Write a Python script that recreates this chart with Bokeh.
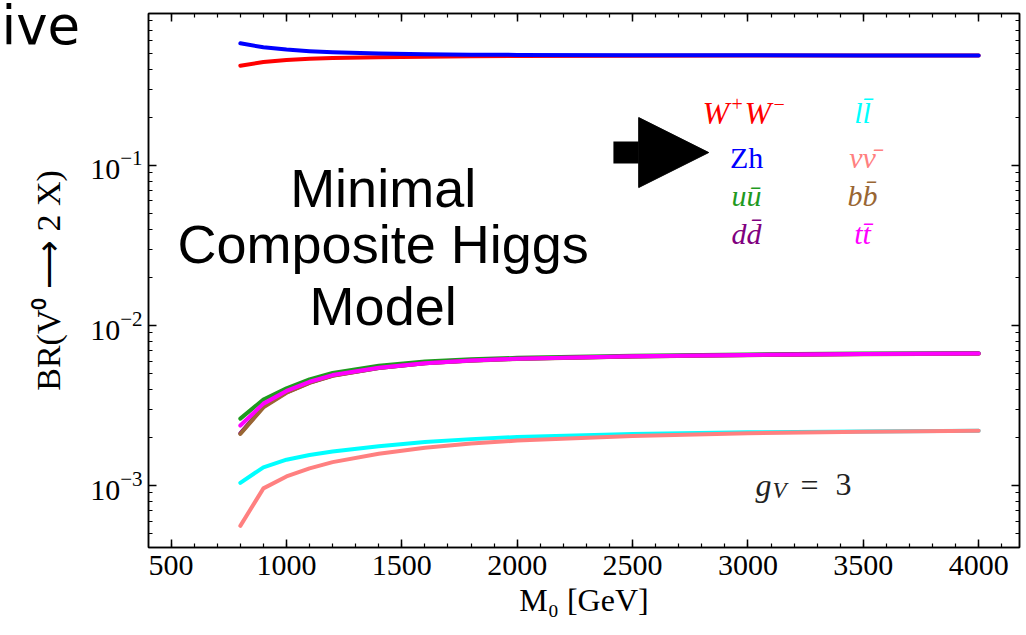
from bokeh.plotting import figure
from bokeh.models import (FixedTicker, LinearAxis, LogAxis, Label, Arrow, NormalHead,
                          Range1d, LogTickFormatter, Title)
from bokeh.embed import file_html
from bokeh.resources import INLINE

# ---------------- data ----------------
mass = [800, 900, 1000, 1100, 1200, 1400, 1600, 1800, 2000, 2500, 3000, 3500, 4000]

br_ww = [0.42, 0.443, 0.456, 0.464, 0.469, 0.475, 0.479, 0.481, 0.483, 0.485, 0.486, 0.487, 0.487]
br_zh = [0.58, 0.548, 0.53, 0.518, 0.51, 0.501, 0.496, 0.493, 0.491, 0.489, 0.488, 0.487, 0.487]
br_uu = [2.62e-3, 3.45e-3, 4.05e-3, 4.6e-3, 5.05e-3, 5.6e-3, 5.95e-3, 6.15e-3, 6.28e-3, 6.48e-3, 6.6e-3, 6.68e-3, 6.72e-3]
br_dd = [2.12e-3, 3.12e-3, 3.82e-3, 4.4e-3, 4.87e-3, 5.43e-3, 5.81e-3, 6.04e-3, 6.19e-3, 6.41e-3, 6.54e-3, 6.63e-3, 6.68e-3]
br_ll = [1.04e-3, 1.3e-3, 1.45e-3, 1.55e-3, 1.63e-3, 1.76e-3, 1.87e-3, 1.95e-3, 2.01e-3, 2.1e-3, 2.15e-3, 2.18e-3, 2.2e-3]
br_nn = [5.6e-4, 9.6e-4, 1.14e-3, 1.28e-3, 1.4e-3, 1.58e-3, 1.72e-3, 1.83e-3, 1.91e-3, 2.04e-3, 2.12e-3, 2.17e-3, 2.2e-3]
br_bb = [2.1e-3, 3.08e-3, 3.8e-3, 4.38e-3, 4.85e-3, 5.42e-3, 5.8e-3, 6.03e-3, 6.18e-3, 6.4e-3, 6.53e-3, 6.62e-3, 6.67e-3]
br_tt = [2.37e-3, 3.25e-3, 3.9e-3, 4.45e-3, 4.9e-3, 5.45e-3, 5.82e-3, 6.05e-3, 6.2e-3, 6.42e-3, 6.55e-3, 6.63e-3, 6.68e-3]

series_names = ["W+W-", "Zh", "u\u016b", "dd\u0304", "ll\u0304", "\u03bd\u03bd\u0304", "bb\u0304", "tt\u0304"]
series_values = [br_ww, br_zh, br_uu, br_dd, br_ll, br_nn, br_bb, br_tt]
series_colors = ["#ff0000", "#0000ff", "#1f9a1f", "#800080", "#00ffff", "#ff8080", "#996633", "#ff00ff"]

x_ticks = [500, 1000, 1500, 2000, 2500, 3000, 3500, 4000]
x_minor = list(range(400, 4200, 100))
y_ticks = [1e-3, 1e-2, 1e-1]
y_minor = [m * d for d in (1e-4, 1e-3, 1e-2, 1e-1) for m in range(2, 10)]

x_title = "M\u2080 [GeV]"
y_title = "BR(V\u2070 \u27f6 2 X)"

# ---------------- figure ----------------
p = figure(frame_width=871, frame_height=534,
           x_range=Range1d(402, 4177), y_range=Range1d(4.1e-4, 0.891),
           y_axis_type="log", output_backend="svg", toolbar_location=None,
           min_border_left=148, min_border_right=7, min_border_top=13, min_border_bottom=88,
           background_fill_color="white", border_fill_color="white")
p.grid.visible = False
p.outline_line_color = "black"
p.outline_line_width = 1.5

for vals, col in zip(series_values, series_colors):
    p.line(mass, vals, line_color=col, line_width=4, line_join="round", line_cap="round")

SERIF = "Liberation Serif"
SANS = "Liberation Sans"

def style_axis(ax, ticks, blank=False):
    ax.axis_line_color = "black"
    ax.axis_line_width = 1.5
    ax.major_tick_line_color = "black"
    ax.minor_tick_line_color = "black"
    ax.major_tick_line_width = 1.5
    ax.minor_tick_line_width = 1.2
    ax.major_tick_in = 8
    ax.major_tick_out = 0
    ax.minor_tick_in = 4
    ax.minor_tick_out = 0
    ax.major_label_text_font = SERIF
    ax.major_label_text_color = "black"
    ax.axis_label_text_color = "black"
    if blank:
        ax.major_label_overrides = {t: "" for t in ticks}
        ax.major_label_text_font_size = "2px"
        ax.major_label_standoff = 0
    else:
        ax.major_label_text_font_size = "30px"

xa = p.xaxis[0]
xa.ticker = FixedTicker(ticks=x_ticks, minor_ticks=x_minor)
style_axis(xa, x_ticks)
xa.major_label_standoff = 8
xa.axis_label = x_title
xa.axis_label_text_font = SERIF
xa.axis_label_text_font_style = "normal"
xa.axis_label_text_font_size = "32px"
xa.axis_label_standoff = 4

ya = p.yaxis[0]
ya.ticker = FixedTicker(ticks=y_ticks, minor_ticks=y_minor)
ya.formatter = LogTickFormatter(min_exponent=0)
style_axis(ya, y_ticks)
ya.major_label_standoff = 6
ya.axis_label = y_title
ya.axis_label_text_font = SERIF
ya.axis_label_text_font_style = "normal"
ya.axis_label_text_font_size = "34px"
ya.axis_label_standoff = 20

top = LinearAxis(ticker=FixedTicker(ticks=x_ticks, minor_ticks=x_minor))
style_axis(top, x_ticks, blank=True)
p.add_layout(top, "above")
right = LogAxis(ticker=FixedTicker(ticks=y_ticks, minor_ticks=y_minor))
style_axis(right, y_ticks, blank=True)
p.add_layout(right, "right")

# cut-off word at the top left, outside the frame: a title in the top border,
# shifted left and pulled down so that it takes almost no height
p.add_layout(Title(text="\nive", align="left", vertical_align="bottom", offset=-147,
                   standoff=-85, text_font="DejaVu Sans", text_font_size="53px",
                   text_font_style="normal", text_color="black", text_line_height=0.45),
             "above")

# ---------------- legend-like coloured labels ----------------
leg_x = [2803, 2994, 2994, 2994, 3497, 3497, 3497, 3497]
leg_y = [0.2143, 0.1122, 0.0649, 0.0376, 0.2143, 0.1122, 0.0649, 0.0376]
for name, col, lx, ly in zip(series_names, series_colors, leg_x, leg_y):
    if name == "W+W-":
        # W^+ W^- built from pieces so the charges sit as superscripts
        for piece, dx, dy, fs in [("W", 0, 0, "32px"), ("+", 29, 9, "20px"),
                                  ("W", 42, 0, "32px"), ("\u2212", 71, 9, "20px")]:
            p.add_layout(Label(x=lx, y=ly, x_offset=dx, y_offset=dy, text=piece,
                               text_color=col, text_font=SERIF, text_font_size=fs,
                               text_font_style="italic" if piece == "W" else "normal",
                               text_align="left", text_baseline="middle"))
        continue
    p.add_layout(Label(x=lx, y=ly, text=name, text_color=col, text_font=SERIF,
                       text_font_size="30px",
                       text_font_style="normal" if name == "Zh" else "italic",
                       text_align="center", text_baseline="middle"))

# arrow pointing at Zh
p.add_layout(Arrow(x_start=2417, y_start=0.1205, x_end=2830, y_end=0.1205,
                   line_color="black", line_width=22,
                   end=NormalHead(size=70, fill_color="black", line_color="black")))

# g_V = 3
GV = "#222222"
p.add_layout(Label(x=3033, y=1.0145e-3, text="g", text_font=SERIF, text_font_style="italic",
                   text_font_size="32px", text_color=GV, text_baseline="middle"))
p.add_layout(Label(x=3107, y=9.3e-4, text="V", text_font=SERIF, text_font_style="italic",
                   text_font_size="23px", text_color=GV, text_baseline="middle"))
p.add_layout(Label(x=3228, y=1.0145e-3, text="=", text_font=SERIF,
                   text_font_size="32px", text_color=GV, text_baseline="middle"))
p.add_layout(Label(x=3380, y=1.0145e-3, text="3", text_font=SERIF,
                   text_font_size="32px", text_color=GV, text_baseline="middle"))

# model annotation
for txt, ty in zip(["Minimal", "Composite Higgs", "Model"], [0.07286, 0.03255, 0.01315]):
    p.add_layout(Label(x=1419, y=ty, text=txt, text_font=SANS, text_font_size="54px",
                       text_color="black", text_align="center", text_baseline="middle"))

open("out.html", "w").write(file_html(p, INLINE))
